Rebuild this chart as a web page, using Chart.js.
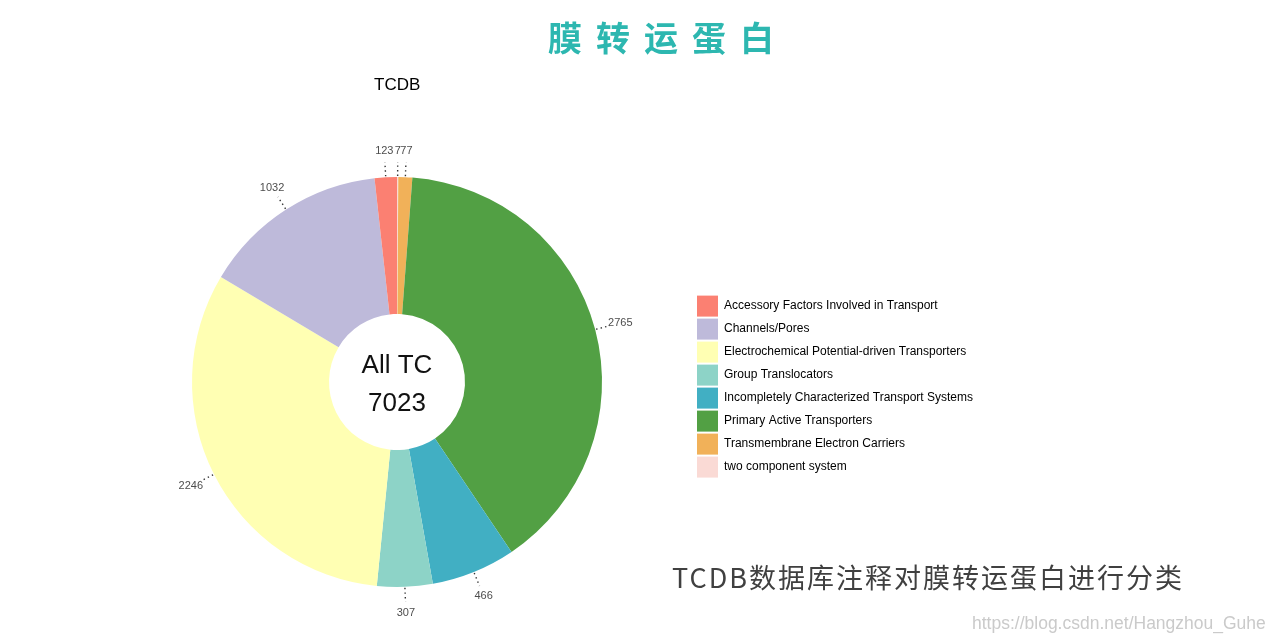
<!DOCTYPE html>
<html>
<head>
<meta charset="utf-8">
<script src="https://cdn.jsdelivr.net/npm/chart.js@4.4.1/dist/chart.umd.min.js"></script>
<style>
  html, body { margin: 0; padding: 0; background: #fff; }
  #wrap { position: relative; width: 1274px; height: 641px; overflow: hidden; }
  #chart { position: absolute; left: 0; top: 0; }
  .txt { position: absolute; white-space: nowrap; line-height: 1; }
  #mainTitle { left: 548px; top: 12px; font: bold 34px "Noto Sans CJK SC", sans-serif; color: #2db7b0; letter-spacing: 14px; }
  #plotTitle { left: 374px; top: 75px; font: 17px "Liberation Sans", Arial, sans-serif; color: #000; }
  #note { left: 672px; top: 557px; font: 27px "Noto Sans CJK SC", sans-serif; color: #404040; letter-spacing: 2px; }
  #mark { left: 972px; top: 613px; font: 17.5px "Liberation Sans", Arial, sans-serif; color: #cacaca; }
</style>
</head>
<body>
<div id="wrap">
  <canvas id="chart" width="1274" height="641"></canvas>
  <div class="txt" id="mainTitle">膜转运蛋白</div>
  <div class="txt" id="plotTitle">TCDB</div>
  <div class="txt" id="note">TCDB数据库注释对膜转运蛋白进行分类</div>
  <div class="txt" id="mark">https://blog.csdn.net/Hangzhou_Guhe</div>
</div>
<script>
// slices, clockwise from 12 o'clock
const categories = [
  'two component system',
  'Transmembrane Electron Carriers',
  'Primary Active Transporters',
  'Incompletely Characterized Transport Systems',
  'Group Translocators',
  'Electrochemical Potential-driven Transporters',
  'Channels/Pores',
  'Accessory Factors Involved in Transport',
];
const counts = [7, 77, 2765, 466, 307, 2246, 1032, 123];
const colors = ['#fadad5', '#f1b159', '#52a044', '#41afc3', '#8dd3c7', '#ffffb3', '#bebada', '#fb8072'];
const centerLines = ['All TC', '7023'];

const sliceLabels = {
  id: 'sliceLabels',
  afterDatasetsDraw(chart) {
    const { ctx } = chart;
    const arcs = chart.getDatasetMeta(0).data;
    ctx.save();
    arcs.forEach((arc, i) => {
      const { x, y, startAngle, endAngle, outerRadius } = arc.getProps(['x', 'y', 'startAngle', 'endAngle', 'outerRadius'], true);
      const mid = (startAngle + endAngle) / 2;
      const cos = Math.cos(mid);
      const sin = Math.sin(mid);

      ctx.strokeStyle = '#333';
      ctx.lineWidth = 1.4;
      ctx.setLineDash([1.4, 3.2]);
      ctx.beginPath();
      ctx.moveTo(x + cos * (outerRadius + 1), y + sin * (outerRadius + 1));
      ctx.lineTo(x + cos * (outerRadius + 15), y + sin * (outerRadius + 15));
      ctx.stroke();

      ctx.setLineDash([]);
      ctx.fillStyle = '#4d4d4d';
      ctx.font = '11px "Liberation Sans", Arial, sans-serif';
      ctx.textAlign = 'center';
      ctx.textBaseline = 'middle';
      ctx.fillText(String(counts[i]), x + cos * (outerRadius + 26), y + sin * (outerRadius + 26));
    });

    const first = arcs[0];
    ctx.fillStyle = '#111';
    ctx.font = '26px "Liberation Sans", Arial, sans-serif';
    ctx.textAlign = 'center';
    ctx.textBaseline = 'middle';
    ctx.fillText(centerLines[0], first.x, first.y - 16);
    ctx.fillText(centerLines[1], first.x, first.y + 22);
    ctx.restore();
  },
};

new Chart(document.getElementById('chart'), {
  type: 'doughnut',
  data: {
    labels: categories,
    datasets: [{
      data: counts,
      backgroundColor: colors,
      borderWidth: 0,
      radius: 205,
      cutout: 68,
    }],
  },
  options: {
    responsive: false,
    animation: false,
    layout: { padding: { left: 99, right: 291, top: 177, bottom: 54 } },
    plugins: {
      tooltip: { enabled: false },
      legend: {
        position: 'right',
        title: { display: true, text: ' ', color: '#000', font: { size: 1 }, padding: { top: 0, bottom: 8 } },
        labels: {
          boxWidth: 21,
          boxHeight: 21,
          padding: 2,
          color: '#000',
          font: { family: '"Liberation Sans", Arial, sans-serif', size: 12 },
          sort: (a, b) => a.text.toLowerCase().localeCompare(b.text.toLowerCase()),
          generateLabels: (chart) => categories.map((text, i) => ({
            text,
            fillStyle: colors[i],
            strokeStyle: colors[i],
            fontColor: '#000',
            lineWidth: 0,
            hidden: false,
            index: i,
          })),
        },
      },
    },
  },
  plugins: [sliceLabels],
});
</script>
</body>
</html>
